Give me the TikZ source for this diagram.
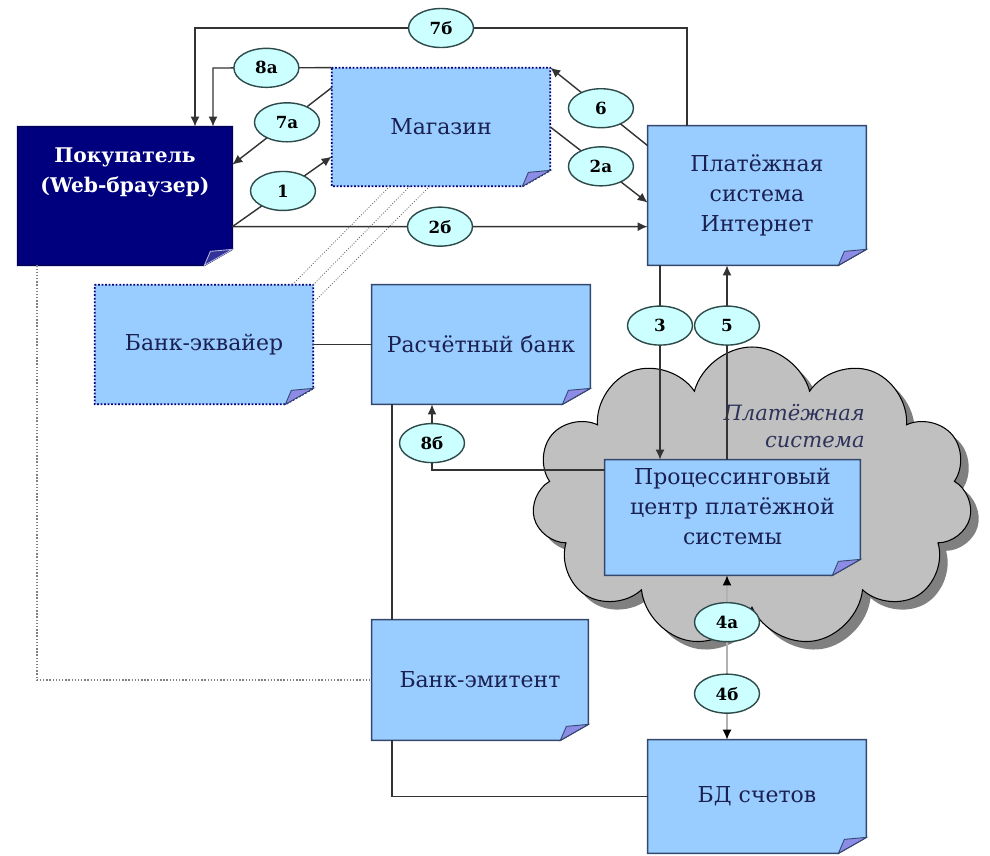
\documentclass[tikz,border=0pt]{standalone}
\usepackage{fontspec}
\setmainfont{DejaVu Serif}
\usetikzlibrary{arrows.meta,shapes.geometric,shapes.symbols,shadows}

\definecolor{boxblue}{HTML}{99CCFF}
\definecolor{boxedge}{HTML}{34486E}
\definecolor{boxtext}{HTML}{1A2050}
\definecolor{navy}{HTML}{00007F}
\definecolor{foldblue}{HTML}{8C8CE6}
\definecolor{stagefill}{HTML}{CCFFFF}
\definecolor{stageline}{HTML}{2E4A4A}
\definecolor{wirecol}{HTML}{333333}
\definecolor{cloudgrey}{HTML}{C0C0C0}
\definecolor{cloudshade}{HTML}{808080}

\pgfdeclarelayer{cloudlayer}
\pgfdeclarelayer{boxlayer}
\pgfsetlayers{cloudlayer,boxlayer,main}

\tikzset{
  box/.style={inner sep=0pt, align=center, text=boxtext, minimum width=43.6mm, minimum height=23.8mm,
    font=\fontsize{12.5}{17}\selectfont},
  flatbox/.style={fill=boxblue, draw=boxedge, line width=0.8pt},
  dotbox/.style={fill=boxblue, draw=navy, line width=1pt, densely dotted},
  darkbox/.style={fill=navy, draw=navy!70!black, line width=0.8pt},
  foldcorner/.style={fill=foldblue, draw=boxedge, line width=0.5pt},
  darkfold/.style={fill=navy!80!white, draw=white!70!navy, line width=0.5pt},
  stage/.style={ellipse, draw=stageline, fill=stagefill, line width=0.8pt, minimum width=13mm,
    minimum height=7.8mm, inner sep=0pt, text=black, font=\bfseries\fontsize{9.5}{11}\selectfont},
  wire/.style={draw=wirecol, line width=0.8pt},
  arr/.style={wire, -{Latex[length=2mm,width=1.8mm]}},
  greyarr/.style={draw=gray!60, line width=0.8pt,
    {Latex[length=2mm,width=1.8mm,color=black]}-{Latex[length=2mm,width=1.8mm,color=black]}},
  greydots/.style={draw=gray, line width=0.8pt, densely dotted},
  linkdots/.style={draw=gray!80!black, line width=0.5pt, densely dotted}
}

\begin{document}
\begin{tikzpicture}[x=0.2mm, y=-0.2mm]
  \useasboundingbox (0,0) rectangle (990,855);

  % the payment system cloud
  \begin{pgfonlayer}{cloudlayer}
    \node[cloud, cloud puffs=11, aspect=1.5, fill=cloudgrey, draw=black, line width=0.6pt,
      minimum width=88mm, minimum height=60mm,
      drop shadow={shadow xshift=1.6mm, shadow yshift=-1.6mm, fill=cloudshade, opacity=1}] (cloud) at (752,497) {};
  \end{pgfonlayer}
  \node[font=\itshape\fontsize{12}{15}\selectfont, text=boxtext!80!gray, align=right, anchor=east] (cloudtitle) at (871,426) {Платёжная\\система};

  % participants
  \node[box, minimum width=42.8mm, minimum height=27.6mm, text=white,
    font=\bfseries\fontsize{11.5}{17}\selectfont] (buyer) at (125,196)
    {\parbox[c][24mm][t]{40mm}{\centering\vspace*{2.4mm}Покупатель\\(Web-браузер)}};
  \node[box, minimum height=23.6mm] (shop) at (441,127) {Магазин};
  \node[box, minimum height=27.8mm] (ips) at (757,195.5) {Платёжная\\система\\Интернет};
  \node[box] (acq) at (204,344.5) {Банк-эквайер};
  \node[box] (settle) at (481,344.5) {Расчётный банк};
  \node[box, minimum width=51mm, minimum height=23mm] (proc) at (732.5,517.5) {Процессинговый\\центр платёжной\\системы\\[-1.5mm]};
  \node[box, minimum width=43.2mm, minimum height=24mm] (issuer) at (480,680) {Банк-эмитент};
  \node[box, minimum height=22.6mm] (db) at (757,796.5) {БД счетов};

  % box outlines with a curled corner
  \begin{pgfonlayer}{boxlayer}
    \foreach \n/\look/\curl in {buyer/darkbox/darkfold, shop/dotbox/foldcorner, ips/flatbox/foldcorner,
        acq/dotbox/foldcorner, settle/flatbox/foldcorner, proc/flatbox/foldcorner,
        issuer/flatbox/foldcorner, db/flatbox/foldcorner} {
      \filldraw[\look] (\n.north west) -- (\n.north east) -- ([yshift=3.2mm]\n.south east)
        -- ([xshift=-5.6mm]\n.south east) -- (\n.south west) -- cycle;
      \filldraw[\curl] ([xshift=-5.6mm]\n.south east) -- ([yshift=3.2mm]\n.south east)
        -- ([xshift=-4.4mm,yshift=2.8mm]\n.south east) -- cycle;
    }
  \end{pgfonlayer}

  % plain links between banks
  \coordinate (rail0) at (37,0);
  \coordinate (rail1) at (392,0);
  \draw[wire] (acq.east) -- (settle.west);
  \draw[wire] (settle.south -| rail1) -- (issuer.north -| rail1);
  \draw[wire] (issuer.south -| rail1) |- (db.west);
  \draw[greydots] (buyer.south -| rail0) |- (issuer.west);
  \draw[linkdots] ([xshift=11.6mm]shop.south west) -- ([xshift=-4.2mm]acq.north east);
  \draw[linkdots] ([xshift=15.6mm]shop.south west) -- (acq.north east);
  \draw[linkdots] ([xshift=19.6mm]shop.south west) -- ([yshift=-3.6mm]acq.north east);

  % steps around the shop
  \coordinate (up7b) at (687,28);
  \coordinate (down7b) at (195,28);
  \coordinate (down8a) at (213,68);
  \draw[arr] (ips.north -| up7b) -- (up7b) -- node[stage] (s7b) {7б} (down7b) -- (buyer.north -| down7b);
  \draw[arr] (shop.north west) -- node[stage, pos=0.55] (s8a) {8а} (down8a) -- (buyer.north -| down8a);
  \draw[arr] ([yshift=-4mm]shop.north west) -- node[stage, pos=0.45] (s7a) {7а} ([yshift=-7.6mm]buyer.north east);
  \draw[arr] ([yshift=-20mm]buyer.north east) -- node[stage, pos=0.51] (s1) {1} ([yshift=-17.8mm]shop.north west);
  \draw[arr] ([yshift=-20mm]buyer.north east) -- node[stage] (s2b) {2б} ([yshift=-20.2mm]ips.north west);
  \draw[arr] ([yshift=-4mm]ips.north west) -- node[stage, pos=0.48] (s6) {6} (shop.north east);
  \draw[arr] (shop.east) -- node[stage, pos=0.52] (s2a) {2а} ([yshift=-15.4mm]ips.north west);

  % steps through the processing centre
  \coordinate (rail3) at (660,0);
  \coordinate (rail5) at (727,0);
  \coordinate (turn8b) at (432,470);
  \draw[arr] (ips.south -| rail3) -- node[stage, pos=0.31] (s3) {3} (proc.north -| rail3);
  \draw[arr] (proc.north -| rail5) -- node[stage, pos=0.69] (s5) {5} (ips.south -| rail5);
  \draw[arr] (proc.west |- turn8b) -- (turn8b) -- node[stage, pos=0.41] (s8b) {8б} (settle.south -| turn8b);
  \draw[greyarr] (proc.south -| rail5) -- node[stage, pos=0.285] (s4a) {4а} node[stage, pos=0.72] (s4b) {4б} (db.north -| rail5);

\end{tikzpicture}
\end{document}
